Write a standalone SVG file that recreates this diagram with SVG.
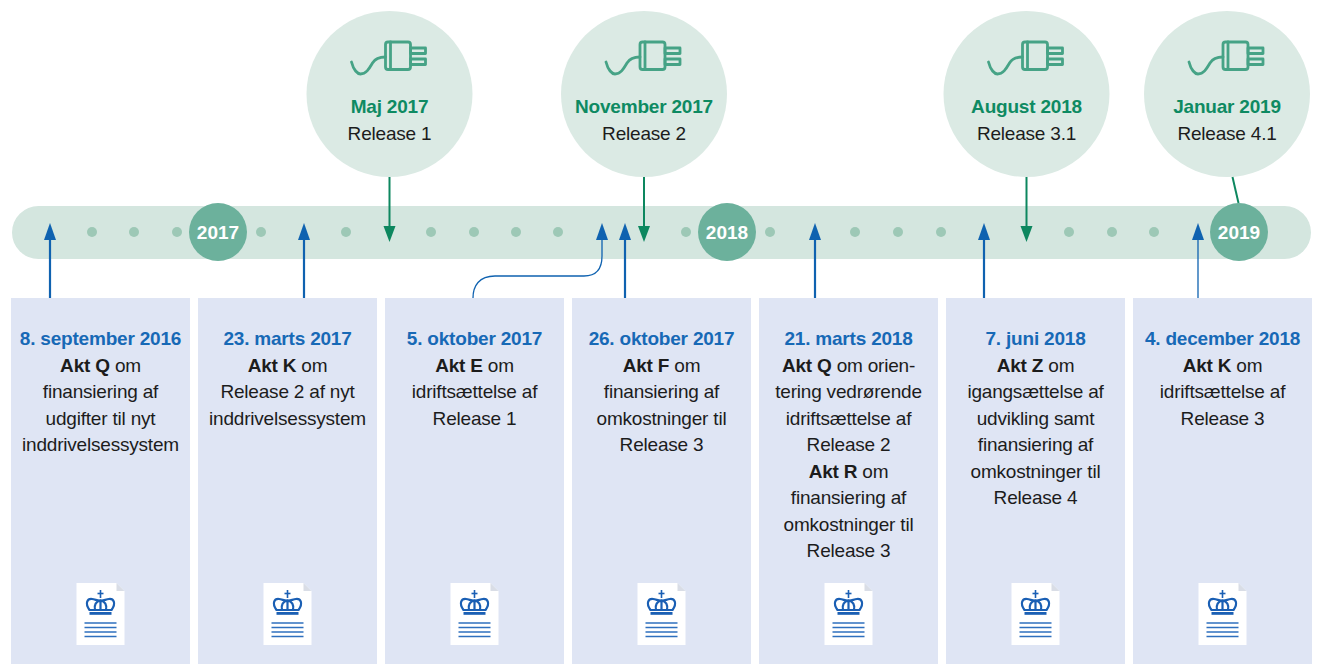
<svg xmlns="http://www.w3.org/2000/svg" xmlns:xlink="http://www.w3.org/1999/xlink" width="1317" height="664" viewBox="0 0 1317 664">
<style>
.box{fill:#dfe5f4}
.t{font-family:"Liberation Sans",Arial,sans-serif;font-size:19px;fill:#1c1c1c;text-anchor:middle;letter-spacing:-0.2px}
.date{font-weight:bold;fill:#1769b6}
.b{font-weight:bold}
.rel{font-weight:bold;fill:#0e8a62}
.yr{font-family:"Liberation Sans",Arial,sans-serif;font-size:19px;font-weight:bold;fill:#ffffff;text-anchor:middle}
.dot{fill:#9dc8b6}
.ycirc{fill:#6cb19c}
.tcirc{fill:#dbeae4}
.plug{fill:none;stroke:#46a386;stroke-width:2.8;stroke-linejoin:round;stroke-linecap:round}
.gl{stroke:#0d875f;stroke-width:2;fill:none}
.bl{stroke:#0f62b0;stroke-width:2.2;fill:none}
.blt{stroke:#0f62b0;stroke-width:1.3;fill:none}
.crown{fill:none;stroke:#1a5fb4;stroke-width:2.2}
</style>
<defs>
<marker id="ag" markerUnits="userSpaceOnUse" markerWidth="18" markerHeight="14" refX="0" refY="6" orient="auto" viewBox="0 0 18 12" overflow="visible">
<path d="M0,0 L16,6 L0,12 z" fill="#0d875f"/>
</marker>
<marker id="ab" markerUnits="userSpaceOnUse" markerWidth="18" markerHeight="14" refX="0" refY="6" orient="auto" viewBox="0 0 18 12" overflow="visible">
<path d="M0,0 L17,6 L0,12 z" fill="#0f62b0"/>
</marker>
<g id="plugicon">
<path class="plug" d="M-38,-32 C-36,-24 -32,-20 -29,-20 C-23,-20 -20,-26 -17,-31 C-14,-36 -10,-37 -4,-37"/>
<rect class="plug" x="-4" y="-52" width="25" height="27.5" rx="2.5"/>
<line class="plug" x1="1" y1="-52" x2="1" y2="-24.5"/>
<rect class="plug" x="21" y="-46" width="15" height="5.5"/>
<rect class="plug" x="21" y="-35" width="15" height="5.5"/>
</g>
<g id="doc">
<path d="M-24,583 L16,583 L24,591 L24,645 L-24,645 Z" fill="#ffffff"/>
<path d="M16,583 L24,591 L16,591 Z" fill="#d9dde6"/>
<line x1="0" y1="590" x2="0" y2="598" stroke="#1a5fb4" stroke-width="1.6"/>
<line x1="-3" y1="593.5" x2="3" y2="593.5" stroke="#1a5fb4" stroke-width="1.6"/>
<path class="crown" d="M-11,610 C-16,603 -13,598.5 -8.5,599 C-5,599.5 -2.5,601 0,600.5 C2.5,601 5,599.5 8.5,599 C13,598.5 16,603 11,610 Z"/>
<path class="crown" d="M-5.5,610 C-6.5,605 -4.5,601.5 0,600.5 C4.5,601.5 6.5,605 5.5,610 M0,600.5 L0,610" stroke-width="1.8"/>
<rect x="-11" y="612" width="22" height="2.8" fill="#1a5fb4"/>
<g stroke="#2e6fbe" stroke-width="1.3">
<line x1="-16" y1="623" x2="16" y2="623"/>
<line x1="-16" y1="627.5" x2="16" y2="627.5"/>
<line x1="-16" y1="632" x2="16" y2="632"/>
<line x1="-16" y1="636.5" x2="16" y2="636.5"/>
</g>
</g>
</defs>

<rect width="1317" height="664" fill="#ffffff"/>

<g id="timeline">
<rect x="12" y="206" width="1299" height="53" rx="26.5" fill="#d4e6df"/>
<g>
<circle class="dot" cx="92" cy="232" r="5"/>
<circle class="dot" cx="134" cy="232" r="5"/>
<circle class="dot" cx="177" cy="232" r="5"/>
<circle class="dot" cx="261" cy="232" r="5"/>
<circle class="dot" cx="346" cy="232" r="5"/>
<circle class="dot" cx="431" cy="232" r="5"/>
<circle class="dot" cx="474" cy="232" r="5"/>
<circle class="dot" cx="516" cy="232" r="5"/>
<circle class="dot" cx="558" cy="232" r="5"/>
<circle class="dot" cx="686" cy="232" r="5"/>
<circle class="dot" cx="770" cy="232" r="5"/>
<circle class="dot" cx="855" cy="232" r="5"/>
<circle class="dot" cx="898" cy="232" r="5"/>
<circle class="dot" cx="941" cy="232" r="5"/>
<circle class="dot" cx="1069" cy="232" r="5"/>
<circle class="dot" cx="1112" cy="232" r="5"/>
<circle class="dot" cx="1154" cy="232" r="5"/>
</g>
</g>
<g id="year2017"><circle class="ycirc" cx="218" cy="232" r="29"/><text class="yr" x="218" y="239">2017</text></g>
<g id="year2018"><circle class="ycirc" cx="727" cy="232" r="29"/><text class="yr" x="727" y="239">2018</text></g>
<g id="year2019"><circle class="ycirc" cx="1239" cy="232" r="29"/><text class="yr" x="1239" y="239">2019</text></g>

<g id="release1">
<circle class="tcirc" cx="389.5" cy="94" r="83"/>
<use xlink:href="#plugicon" href="#plugicon" transform="translate(389.5,94)"/>
<text class="t rel" x="389.5" y="113">Maj 2017</text>
<text class="t" x="389.5" y="140">Release 1</text>
</g>
<g id="release2">
<circle class="tcirc" cx="644" cy="94" r="83"/>
<use xlink:href="#plugicon" href="#plugicon" transform="translate(644,94)"/>
<text class="t rel" x="644" y="113">November 2017</text>
<text class="t" x="644" y="140">Release 2</text>
</g>
<g id="release31">
<circle class="tcirc" cx="1026.5" cy="94" r="83"/>
<use xlink:href="#plugicon" href="#plugicon" transform="translate(1026.5,94)"/>
<text class="t rel" x="1026.5" y="113">August 2018</text>
<text class="t" x="1026.5" y="140">Release 3.1</text>
</g>
<g id="release41">
<circle class="tcirc" cx="1227" cy="94" r="83"/>
<use xlink:href="#plugicon" href="#plugicon" transform="translate(1227,94)"/>
<text class="t rel" x="1227" y="113">Januar 2019</text>
<text class="t" x="1227" y="140">Release 4.1</text>
</g>

<g id="akt1">
<rect class="box" x="11" y="298" width="179" height="366"/>
<text class="t date" x="100.5" y="345">8. september 2016</text>
<text class="t" x="100.5" y="372"><tspan class="b">Akt Q</tspan> om</text>
<text class="t" x="100.5" y="398">finansiering af</text>
<text class="t" x="100.5" y="425">udgifter til nyt</text>
<text class="t" x="100.5" y="451">inddrivelsessystem</text>
<use xlink:href="#doc" href="#doc" transform="translate(100.5,0)"/>
</g>
<g id="akt2">
<rect class="box" x="198" y="298" width="179" height="366"/>
<text class="t date" x="287.5" y="345">23. marts 2017</text>
<text class="t" x="287.5" y="372"><tspan class="b">Akt K</tspan> om</text>
<text class="t" x="287.5" y="398">Release 2 af nyt</text>
<text class="t" x="287.5" y="425">inddrivelsessystem</text>
<use xlink:href="#doc" href="#doc" transform="translate(287.5,0)"/>
</g>
<g id="akt3">
<rect class="box" x="385" y="298" width="179" height="366"/>
<text class="t date" x="474.5" y="345">5. oktober 2017</text>
<text class="t" x="474.5" y="372"><tspan class="b">Akt E</tspan> om</text>
<text class="t" x="474.5" y="398">idriftsættelse af</text>
<text class="t" x="474.5" y="425">Release 1</text>
<use xlink:href="#doc" href="#doc" transform="translate(474.5,0)"/>
</g>
<g id="akt4">
<rect class="box" x="572" y="298" width="179" height="366"/>
<text class="t date" x="661.5" y="345">26. oktober 2017</text>
<text class="t" x="661.5" y="372"><tspan class="b">Akt F</tspan> om</text>
<text class="t" x="661.5" y="398">finansiering af</text>
<text class="t" x="661.5" y="425">omkostninger til</text>
<text class="t" x="661.5" y="451">Release 3</text>
<use xlink:href="#doc" href="#doc" transform="translate(661.5,0)"/>
</g>
<g id="akt5">
<rect class="box" x="759" y="298" width="179" height="366"/>
<text class="t date" x="848.5" y="345">21. marts 2018</text>
<text class="t" x="848.5" y="372"><tspan class="b">Akt Q</tspan> om orien-</text>
<text class="t" x="848.5" y="398">tering vedrørende</text>
<text class="t" x="848.5" y="425">idriftsættelse af</text>
<text class="t" x="848.5" y="451">Release 2</text>
<text class="t" x="848.5" y="478"><tspan class="b">Akt R</tspan> om</text>
<text class="t" x="848.5" y="504">finansiering af</text>
<text class="t" x="848.5" y="531">omkostninger til</text>
<text class="t" x="848.5" y="557">Release 3</text>
<use xlink:href="#doc" href="#doc" transform="translate(848.5,0)"/>
</g>
<g id="akt6">
<rect class="box" x="946" y="298" width="179" height="366"/>
<text class="t date" x="1035.5" y="345">7. juni 2018</text>
<text class="t" x="1035.5" y="372"><tspan class="b">Akt Z</tspan> om</text>
<text class="t" x="1035.5" y="398">igangsættelse af</text>
<text class="t" x="1035.5" y="425">udvikling samt</text>
<text class="t" x="1035.5" y="451">finansiering af</text>
<text class="t" x="1035.5" y="478">omkostninger til</text>
<text class="t" x="1035.5" y="504">Release 4</text>
<use xlink:href="#doc" href="#doc" transform="translate(1035.5,0)"/>
</g>
<g id="akt7">
<rect class="box" x="1133" y="298" width="179" height="366"/>
<text class="t date" x="1222.5" y="345">4. december 2018</text>
<text class="t" x="1222.5" y="372"><tspan class="b">Akt K</tspan> om</text>
<text class="t" x="1222.5" y="398">idriftsættelse af</text>
<text class="t" x="1222.5" y="425">Release 3</text>
<use xlink:href="#doc" href="#doc" transform="translate(1222.5,0)"/>
</g>

<g id="connectors">
<path class="gl" d="M389.5,177 L389.5,226" marker-end="url(#ag)"/>
<path class="gl" d="M644,177 L644,226" marker-end="url(#ag)"/>
<path class="gl" d="M1026.5,177 L1026.5,226" marker-end="url(#ag)"/>
<path class="gl" d="M1232.5,177 L1238.5,203" stroke-width="1.5"/>
<path class="bl" d="M50,298 L50,240" marker-end="url(#ab)"/>
<path class="bl" d="M304,298 L304,240" marker-end="url(#ab)"/>
<path class="blt" d="M473,298 C473,286 479,276 495,276 L584,276 C597,276 602,268 602,256 L602,240" marker-end="url(#ab)"/>
<path class="bl" d="M625,298 L625,240" marker-end="url(#ab)"/>
<path class="bl" d="M815,298 L815,240" marker-end="url(#ab)"/>
<path class="bl" d="M984,298 L984,240" marker-end="url(#ab)"/>
<path class="blt" d="M1198,298 L1198,240" marker-end="url(#ab)"/>
</g>
</svg>
